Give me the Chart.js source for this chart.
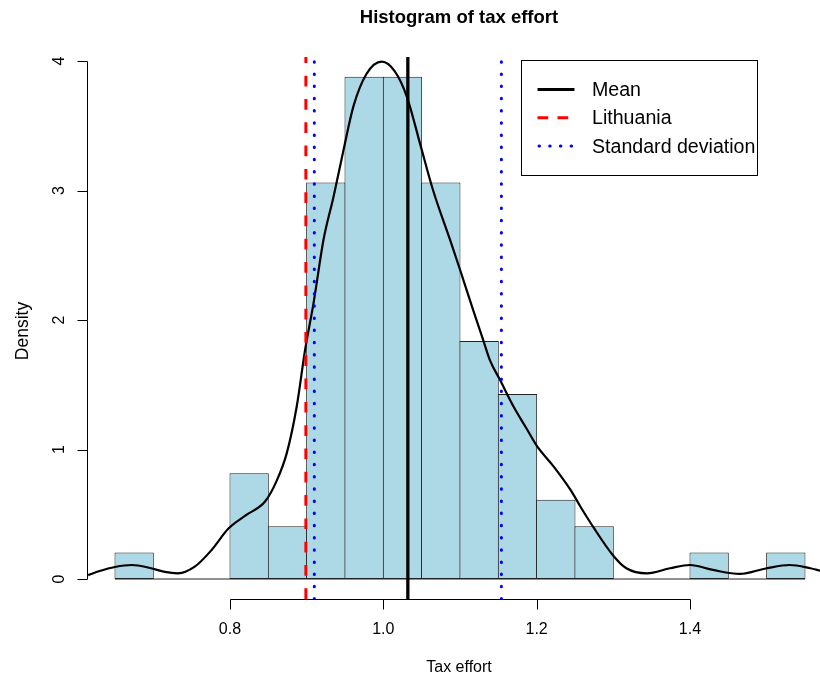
<!DOCTYPE html>
<html>
<head>
<meta charset="utf-8">
<title>Histogram of tax effort</title>
<script src="https://cdn.jsdelivr.net/npm/chart.js@4.4.0/dist/chart.umd.min.js"></script>
<style>
    html, body { margin: 0; padding: 0; background: #fff; overflow: hidden; }
    #wrap { width: 820px; height: 675px; }
</style>
</head>
<body>
<div id="wrap"><canvas id="histChart" width="820" height="675"></canvas></div>
<script>
// histogram bins (width 0.05) and densities
const breaks = [0.65, 0.70, 0.75, 0.80, 0.85, 0.90, 0.95, 1.00, 1.05, 1.10,
                1.15, 1.20, 1.25, 1.30, 1.35, 1.40, 1.45, 1.50, 1.55];
const densities = [0.204, 0, 0, 0.816, 0.408, 3.061, 3.878, 3.878, 3.061,
                   1.837, 1.429, 0.612, 0.408, 0, 0, 0.204, 0, 0.204];

// density curve
const kdeX = [0.615, 0.630, 0.650, 0.672, 0.696, 0.715, 0.732, 0.754, 0.776, 0.798,
              0.820, 0.846, 0.861, 0.874, 0.887, 0.898, 0.909, 0.922, 0.935, 0.948,
              0.961, 0.978, 0.998, 1.015, 1.031, 1.048, 1.065, 1.087, 1.100, 1.117,
              1.130, 1.139, 1.152, 1.170, 1.187, 1.200, 1.222, 1.244, 1.257, 1.274,
              1.300, 1.317, 1.344, 1.374, 1.400, 1.430, 1.465, 1.500, 1.530, 1.557, 1.570];
const kdeY = [0.030, 0.062, 0.093, 0.108, 0.085, 0.055, 0.044, 0.095, 0.224, 0.390,
              0.490, 0.600, 0.760, 0.970, 1.330, 1.770, 2.130, 2.620, 2.950, 3.310,
              3.650, 3.900, 3.995, 3.920, 3.720, 3.360, 3.000, 2.620, 2.390, 2.080,
              1.850, 1.690, 1.540, 1.330, 1.160, 1.030, 0.870, 0.690, 0.560, 0.400,
              0.180, 0.083, 0.044, 0.083, 0.108, 0.070, 0.039, 0.083, 0.108, 0.083, 0.064];

const meanValue = 1.032;
const lithuaniaValue = 0.899;
const sdLow = 0.910;
const sdHigh = 1.154;

const xTicks = [0.8, 1.0, 1.2, 1.4];
const xTickLabels = ['0.8', '1.0', '1.2', '1.4'];
const yTicks = [0, 1, 2, 3, 4];
const yTickLabels = ['0', '1', '2', '3', '4'];

const legendLabels = ['Mean', 'Lithuania', 'Standard deviation'];

// plot limits (R adds 4% on each side)
const xMin = 0.6135, xMax = 1.5696;
const yMin = -0.1544, yMax = 4.031;

const FONT = '"Liberation Sans", Arial, Helvetica, sans-serif';

const binMids = densities.map((d, i) => (breaks[i] + breaks[i + 1]) / 2);

function vline(x) {
    return [{ x: x, y: yMin }, { x: x, y: yMax }];
}

// draws R-style axes, titles and the legend box
const rStylePlugin = {
    id: 'rStyle',
    afterDraw: chart => {
        const ctx = chart.ctx;
        const xs = chart.scales.x;
        const ys = chart.scales.y;
        const area = chart.chartArea;
        ctx.save();
        ctx.strokeStyle = '#000';
        ctx.fillStyle = '#000';
        ctx.lineWidth = 1;

        // y axis
        const ax = Math.round(area.left) + 0.5;
        ctx.beginPath();
        ctx.moveTo(ax, Math.round(ys.getPixelForValue(yTicks[0])) + 0.5);
        ctx.lineTo(ax, Math.round(ys.getPixelForValue(yTicks[yTicks.length - 1])) + 0.5);
        yTicks.forEach(v => {
            const p = Math.round(ys.getPixelForValue(v)) + 0.5;
            ctx.moveTo(ax, p);
            ctx.lineTo(ax - 10, p);
        });
        ctx.stroke();
        ctx.font = '16px ' + FONT;
        ctx.textAlign = 'center';
        ctx.textBaseline = 'alphabetic';
        yTicks.forEach((v, i) => {
            ctx.save();
            ctx.translate(64, ys.getPixelForValue(v));
            ctx.rotate(-Math.PI / 2);
            ctx.fillText(yTickLabels[i], 0, 0);
            ctx.restore();
        });

        // x axis
        const ay = Math.round(area.bottom) + 0.5;
        ctx.beginPath();
        ctx.moveTo(Math.round(xs.getPixelForValue(xTicks[0])) + 0.5, ay);
        ctx.lineTo(Math.round(xs.getPixelForValue(xTicks[xTicks.length - 1])) + 0.5, ay);
        xTicks.forEach(v => {
            const p = Math.round(xs.getPixelForValue(v)) + 0.5;
            ctx.moveTo(p, ay);
            ctx.lineTo(p, ay + 10);
        });
        ctx.stroke();
        xTicks.forEach((v, i) => {
            ctx.fillText(xTickLabels[i], xs.getPixelForValue(v), 634);
        });

        // axis titles
        ctx.fillText('Tax effort', 459, 672);
        ctx.save();
        ctx.translate(28, 331);
        ctx.rotate(-Math.PI / 2);
        ctx.font = '17.5px ' + FONT;
        ctx.fillText('Density', 0, 0);
        ctx.restore();

        // main title
        ctx.font = 'bold 18.5px ' + FONT;
        ctx.fillText('Histogram of tax effort', 459, 23);

        // legend
        const lx = 521.5, ly = 60.5, lw = 236, lh = 115;
        ctx.fillStyle = '#fff';
        ctx.fillRect(lx, ly, lw, lh);
        ctx.strokeRect(lx, ly, lw, lh);
        const styles = [
            { color: '#000', dash: [], cap: 'butt' },
            { color: '#ff0000', dash: [10.7, 9.3], cap: 'butt' },
            { color: '#0000ff', dash: [0.5, 10.2], cap: 'round' }
        ];
        ctx.font = '19.6px ' + FONT;
        ctx.textAlign = 'left';
        ctx.textBaseline = 'middle';
        legendLabels.forEach((lab, i) => {
            const ry = 89.5 + i * 28.3;
            const st = styles[i];
            ctx.save();
            ctx.strokeStyle = st.color;
            ctx.lineWidth = 3;
            ctx.lineCap = st.cap;
            ctx.setLineDash(st.dash);
            ctx.beginPath();
            ctx.moveTo(st.cap === 'round' ? 539 : 537.5, ry);
            ctx.lineTo(574.5, ry);
            ctx.stroke();
            ctx.restore();
            ctx.fillStyle = '#000';
            ctx.fillText(lab, 592, ry + 1);
        });
        ctx.restore();
    }
};

const chart = new Chart(document.getElementById('histChart').getContext('2d'), {
    type: 'bar',
    plugins: [rStylePlugin],
    data: {
        datasets: [
            {
                label: 'Histogram',
                data: binMids.map((m, i) => ({ x: m, y: densities[i] })),
                backgroundColor: '#add8e6',
                borderColor: '#222',
                borderWidth: 1,
                borderSkipped: false,
                barPercentage: 1.026,
                categoryPercentage: 1,
                order: 10
            },
            {
                type: 'line',
                label: 'baseline',
                data: [{ x: breaks[0], y: 0 }, { x: breaks[breaks.length - 1], y: 0 }],
                borderColor: '#222',
                borderWidth: 1,
                pointRadius: 0,
                order: 9
            },
            {
                type: 'line',
                label: 'Density',
                data: kdeX.map((x, i) => ({ x: x, y: kdeY[i] })),
                borderColor: '#000',
                borderWidth: 2.2,
                pointRadius: 0,
                fill: false,
                cubicInterpolationMode: 'monotone',
                order: 5
            },
            {
                type: 'line',
                label: 'Mean',
                data: vline(meanValue),
                borderColor: '#000',
                borderWidth: 3.3,
                pointRadius: 0,
                order: 3
            },
            {
                type: 'line',
                label: 'Lithuania',
                data: vline(lithuaniaValue),
                borderColor: '#ff0000',
                borderWidth: 3,
                borderDash: [10.7, 12.6],
                pointRadius: 0,
                order: 2
            },
            {
                type: 'line',
                label: 'SD low',
                data: vline(sdLow),
                borderColor: '#0000ff',
                borderWidth: 3,
                borderDash: [0.5, 11.7],
                borderCapStyle: 'round',
                pointRadius: 0,
                order: 1
            },
            {
                type: 'line',
                label: 'SD high',
                data: vline(sdHigh),
                borderColor: '#0000ff',
                borderWidth: 3,
                borderDash: [0.5, 11.7],
                borderCapStyle: 'round',
                pointRadius: 0,
                order: 1
            }
        ]
    },
    options: {
        responsive: false,
        animation: false,
        devicePixelRatio: 1,
        layout: {
            padding: { left: 87, right: 0, top: 57, bottom: 76 }
        },
        plugins: {
            legend: { display: false },
            tooltip: { enabled: false },
            title: { display: false }
        },
        scales: {
            x: {
                type: 'linear',
                min: xMin,
                max: xMax,
                offset: false,
                display: false
            },
            y: {
                min: yMin,
                max: yMax,
                display: false
            }
        }
    }
});
</script>
</body>
</html>
